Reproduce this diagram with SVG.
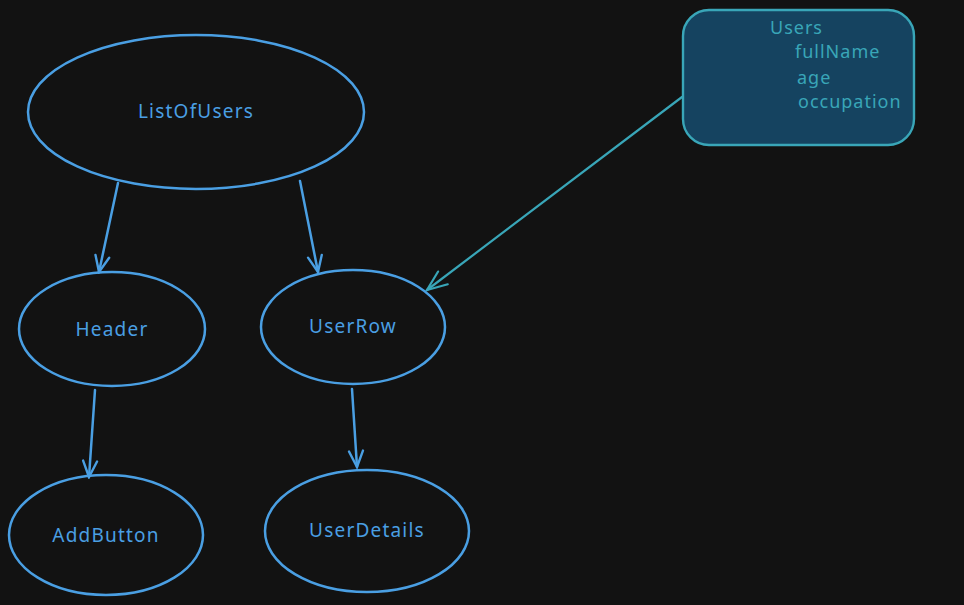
<svg xmlns="http://www.w3.org/2000/svg" width="964" height="605" viewBox="0 0 964 605">
<style>
.node{fill:none;stroke:#4a9fe3;stroke-width:2.5}
.lbl{fill:#4a9fe3;font-family:"Noto Sans","Liberation Sans",sans-serif;font-size:19px;letter-spacing:1.2px;text-anchor:middle;dominant-baseline:central}
.edge{fill:none;stroke:#4a9fe3;stroke-width:2.5;stroke-linecap:round}
.teal{fill:none;stroke:#39a6b8;stroke-width:2.2;stroke-linecap:round}
.tl{fill:#39a6b8;font-family:"Noto Sans","Liberation Sans",sans-serif;font-size:18px;letter-spacing:1px}
</style>
<defs>
<marker id="ah" viewBox="0 0 20 20" refX="18" refY="10" markerWidth="20" markerHeight="20" markerUnits="userSpaceOnUse" orient="auto">
<path d="M2,3 L18,10 L2,17" fill="none" stroke="#4a9fe3" stroke-width="2.4" stroke-linecap="round"/>
</marker>
<marker id="aht" viewBox="0 0 24 24" refX="22" refY="12" markerWidth="24" markerHeight="24" markerUnits="userSpaceOnUse" orient="auto">
<path d="M2,4 L22,12 L2,20" fill="none" stroke="#39a6b8" stroke-width="2.2" stroke-linecap="round"/>
</marker>
</defs>
<rect width="964" height="605" fill="#121212"/>
<g id="connectors">
<line class="edge" x1="118" y1="183" x2="99" y2="272" marker-end="url(#ah)"/>
<line class="edge" x1="300" y1="181" x2="318" y2="272" marker-end="url(#ah)"/>
<line class="edge" x1="95" y1="390" x2="89" y2="477" marker-end="url(#ah)"/>
<line class="edge" x1="352" y1="389" x2="357" y2="467" marker-end="url(#ah)"/>
<line class="teal" x1="682" y1="97" x2="427" y2="290" marker-end="url(#aht)"/>
</g>
<g id="users">
<rect x="683" y="10" width="231" height="135" rx="26" fill="#154360" stroke="#39a6b8" stroke-width="2.4"/>
<text class="tl" x="770" y="34">Users</text>
<text class="tl" x="795" y="58">fullName</text>
<text class="tl" x="797" y="84">age</text>
<text class="tl" x="798" y="108">occupation</text>
</g>
<g id="listofusers">
<ellipse class="node" cx="196" cy="112" rx="168" ry="77"/>
<text class="lbl" x="196" y="111">ListOfUsers</text>
</g>
<g id="header">
<ellipse class="node" cx="112" cy="329" rx="93" ry="57"/>
<text class="lbl" x="112" y="329">Header</text>
</g>
<g id="userrow">
<ellipse class="node" cx="353" cy="327" rx="92" ry="57"/>
<text class="lbl" x="353" y="326">UserRow</text>
</g>
<g id="addbutton">
<ellipse class="node" cx="106" cy="535" rx="97" ry="60"/>
<text class="lbl" x="106" y="535">AddButton</text>
</g>
<g id="userdetails">
<ellipse class="node" cx="367" cy="531" rx="102" ry="61"/>
<text class="lbl" x="367" y="530">UserDetails</text>
</g>
</svg>
